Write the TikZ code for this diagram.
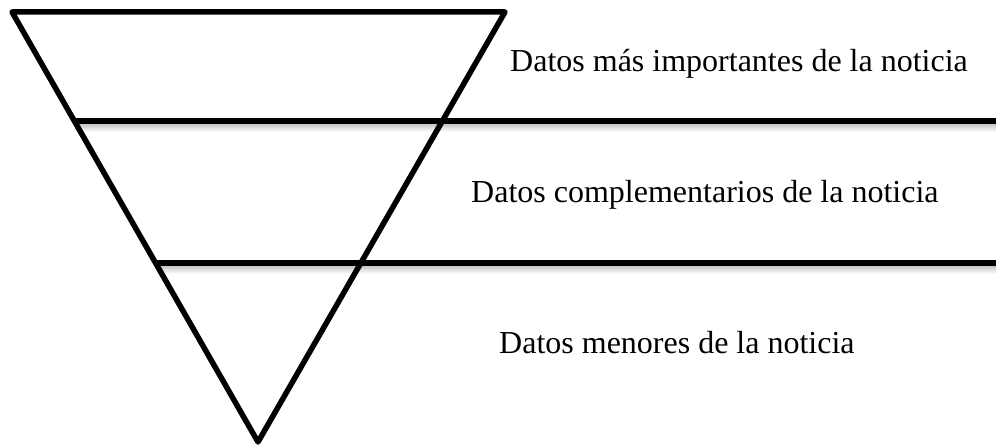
\documentclass[tikz,border=0pt]{standalone}
\usepackage{fontspec}
\setmainfont{Liberation Serif}
\usepackage{tikz}
\usetikzlibrary{calc}
\tikzset{
  edge/.style={line width=5.5pt, line cap=round, line join=round},
  label/.style={font=\fontsize{32}{38}\selectfont, anchor=base west, inner sep=0pt}
}

\begin{document}
\begin{tikzpicture}[x=1pt, y=-1pt]

  \useasboundingbox (0,0) rectangle (1000,446);

  % Corners of the inverted triangle
  \coordinate (TL) at (12,12);
  \coordinate (TR) at (505,12);
  \coordinate (B)  at (258,442);

  % Ends of the dividing lines
  \coordinate (L1) at (75,121);
  \coordinate (R1) at (996,121);
  \coordinate (L2) at (157,263);
  \coordinate (R2) at (996,263);

  % Soft shadows under the dividing lines
  \foreach \l/\r in {L1/R1, L2/R2} {
    \shade[top color=gray!50, bottom color=white] ($(\l)+(0,2)$) rectangle ($(\r)+(0,11)$);
  }

  % Triangle
  \draw[edge] (TL) -- (TR) -- (B) -- cycle;

  % Dividing lines
  \draw[edge, line cap=butt] (L1) -- (R1);
  \draw[edge, line cap=butt] (L2) -- (R2);

  % Labels
  \node[label] (top) at (510,72) {Datos más importantes de la noticia};
  \node[label] (mid) at (471,203) {Datos complementarios de la noticia};
  \node[label] (low) at (499,353) {Datos menores de la noticia};

\end{tikzpicture}
\end{document}
